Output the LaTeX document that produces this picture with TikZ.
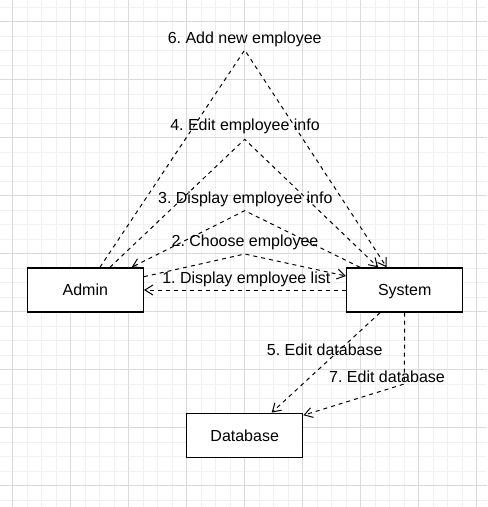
\documentclass[tikz,border=0pt]{standalone}
\usepackage{fontspec}
\setmainfont{Liberation Sans}
\usepackage{xcolor}
\usetikzlibrary{arrows.meta,calc,positioning}
\definecolor{gridmajor}{HTML}{DADADA}
\definecolor{gridminor}{HTML}{F0F0F0}
\frenchspacing

\begin{document}
\begin{tikzpicture}[
    x=0.75pt, y=-0.75pt,
    font=\fontsize{12pt}{14pt}\selectfont,
    majorgrid/.style={draw=gridmajor, line width=0.75pt},
    minorgrid/.style={draw=gridminor, line width=0.75pt},
    box/.style={rectangle, draw=black, fill=white, line width=1.1pt,
        minimum width=87pt, minimum height=33pt, inner sep=0,
        text height=8.6pt, text depth=0pt},
    flow/.style={draw, line width=0.75pt, dash pattern=on 3pt off 3pt},
    msg/.style={anchor=base, inner sep=0},
    tip/.style={-{Straight Barb[length=6pt, width=7.5pt]}}]
\useasboundingbox[fill=white] (0,0) rectangle (487,507);

% grid
\foreach \i in {0,...,34} {
    \path[minorgrid] ({-1.8+14.5*\i},0) -- ({-1.8+14.5*\i},507);
    \path[minorgrid] (0,{7.2+14.5*\i}) -- (487,{7.2+14.5*\i});
}
\foreach \i in {0,...,8} {
    \path[majorgrid] ({12.7+58*\i},0) -- ({12.7+58*\i},507);
    \path[majorgrid] (0,{21.7+58*\i}) -- (487,{21.7+58*\i});
}

\node[box] (admin) at (85.3,290) {Admin};
\node[box] (system) at (404.7,290) {System};
\node[box] (database) at (244.7,435.3) {Database};

\coordinate (a6) at (244.7,50);
\coordinate (a4) at (244.7,139.3);
\coordinate (a3) at (244.7,210.7);
\coordinate (a2) at (244.7,254);
\coordinate (b7) at (404.3,384);

\path[flow, tip] ([xshift=11pt]admin.north) -- (a6) -- ([xshift=-13.5pt]system.north);
\path[flow, tip] ([xshift=18.5pt]admin.north) -- (a4) -- ([xshift=-20pt]system.north);
\path[flow, tip] ([xshift=-33.5pt]system.north) -- (a3) -- ([xshift=34.8pt]admin.north);
\path[flow, tip] ([yshift=10pt]admin.east) -- (a2) -- ([yshift=10.5pt]system.west);
\path[flow, tip] (system.west) -- (admin.east);
\path[flow, tip] ([xshift=-18.5pt]system.south) -- ([xshift=20.25pt]database.north);
\path[flow, tip] (system.south) -- (b7) -- ([yshift=-2pt]database.north east);

\node[msg] (m6) at (244.7,43.3) {6. Add new employee};
\node[msg] (m4) at (245,130) {4. Edit employee info};
\node[msg] (m3) at (245.3,203.3) {3. Display employee info};
\node[msg] (m2) at (245,246.7) {2. Choose employee};
\node[msg] (m1) at (246.3,283.3) {1. Display employee list};
\node[msg] (m5) at (324.7,355) {5. Edit database};
\node[msg] (m7) at (387,382.7) {7. Edit database};

\end{tikzpicture}
\end{document}
